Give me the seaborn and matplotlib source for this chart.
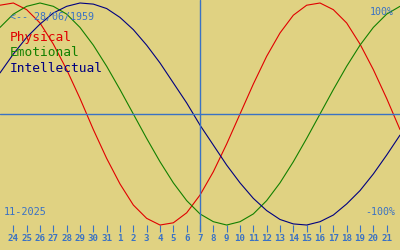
import matplotlib
matplotlib.use("Agg")
import matplotlib.pyplot as plt
import seaborn as sns
import pandas as pd
import numpy as np

# Day index 0..30 (0 = 23 Oct 2025, 30 = 22 Nov 2025)
days = list(range(31))
physical = [0.98, 1.00, 0.94, 0.82, 0.63, 0.40, 0.14, -0.14, -0.40, -0.63,
            -0.82, -0.94, -1.00, -0.98, -0.89, -0.73, -0.52, -0.27, 0.00, 0.27,
            0.52, 0.73, 0.89, 0.98, 1.00, 0.94, 0.82, 0.63, 0.40, 0.14, -0.14]
emotional = [0.78, 0.90, 0.97, 1.00, 0.97, 0.90, 0.78, 0.62, 0.43, 0.22,
             0.00, -0.22, -0.43, -0.62, -0.78, -0.90, -0.97, -1.00, -0.97, -0.90,
             -0.78, -0.62, -0.43, -0.22, 0.00, 0.22, 0.43, 0.62, 0.78, 0.90, 0.97]
intellectual = [0.37, 0.54, 0.69, 0.81, 0.91, 0.97, 1.00, 0.99, 0.95, 0.87,
                0.76, 0.62, 0.46, 0.28, 0.10, -0.10, -0.28, -0.46, -0.62, -0.76,
                -0.87, -0.95, -0.99, -1.00, -0.97, -0.91, -0.81, -0.69, -0.54, -0.37, -0.19]
tick_pos = list(range(1, 30))
tick_labels = ["24", "25", "26", "27", "28", "29", "30", "31", "1", "2", "3", "4",
               "5", "6", "7", "8", "9", "10", "11", "12", "13", "14", "15", "16",
               "17", "18", "19", "20", "21"]
today_index = 15
birth_label = "<-- 28/06/1959"
month_label = "11-2025"
series_names = ["Physical", "Emotional", "Intellectual"]

BG = "#E0D282"
BLUE = "#3A72C4"
RED = "#E00000"
GREEN = "#128000"
NAVY = "#000080"

sns.set_style("white")
plt.rcParams["font.family"] = ["DejaVu Sans Mono"]

fig = plt.figure(figsize=(4, 2.5), dpi=100, facecolor=BG)
ax = fig.add_axes([0, 0, 1, 1])
ax.set_facecolor(BG)

df = pd.DataFrame({"day": days, "Physical": physical, "Emotional": emotional,
                   "Intellectual": intellectual})
for name, col in zip(series_names, [RED, GREEN, NAVY]):
    sns.lineplot(data=df, x="day", y=name, ax=ax, color=col, linewidth=0.8)

ymin, ymax = -1.225, 1.027
ax.set_xlim(0, 30)
ax.set_ylim(ymin, ymax)
ax.axhline(0, color=BLUE, linewidth=1.0)
ax.axvline(today_index, ymin=(-1.054 - ymin) / (ymax - ymin), color=BLUE, linewidth=1.0)

ax.set_xlabel("")
ax.set_ylabel("")
for s in ["top", "left", "right"]:
    ax.spines[s].set_visible(False)
ax.spines["bottom"].set_position(("data", -1.0))
ax.spines["bottom"].set_visible(False)
ax.set_yticks([])
ax.set_xticks(tick_pos)
ax.set_xticklabels(tick_labels, fontsize=6.6, color=BLUE, fontweight="bold")
ax.tick_params(axis="x", direction="out", length=5, width=0.8, color=BLUE,
               pad=1.5, bottom=True)

def px(x, y):
    return x / 400, 1 - y / 250

fig.text(*px(10, 17), birth_label, color=BLUE, fontsize=7.2, va="center", ha="left")
fig.text(*px(10, 38), series_names[0], color=RED, fontsize=9.3, va="center", ha="left")
fig.text(*px(10, 53), series_names[1], color=GREEN, fontsize=9.3, va="center", ha="left")
fig.text(*px(10, 68), series_names[2], color=NAVY, fontsize=9.3, va="center", ha="left")
fig.text(*px(394, 12), "100%", color=BLUE, fontsize=7.2, va="center", ha="right")
fig.text(*px(395, 212), "-100%", color=BLUE, fontsize=7.2, va="center", ha="right")
fig.text(*px(4, 212), month_label, color=BLUE, fontsize=7.4, va="center", ha="left")

fig.savefig("out.png", dpi=100, facecolor=BG)
